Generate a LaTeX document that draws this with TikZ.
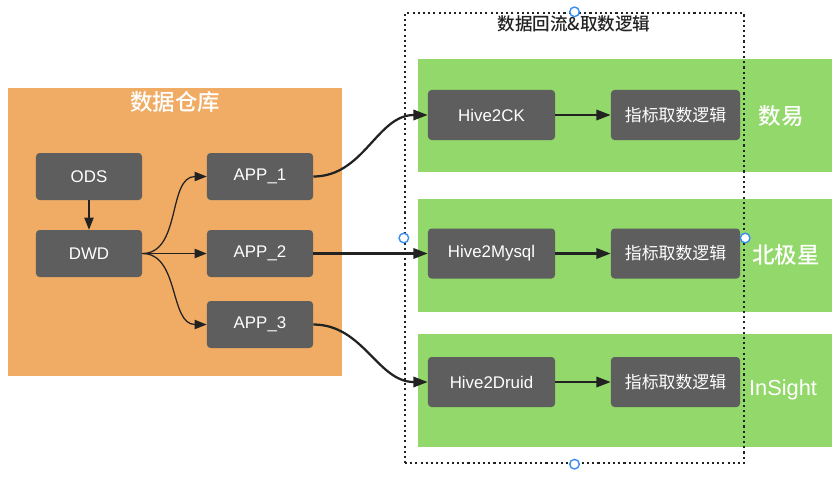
\documentclass[tikz,border=0pt]{standalone}
\usepackage{fontspec}
\setmainfont{Liberation Sans}
\newfontfamily\cjk{Noto Sans CJK SC}
\IfFontExistsTF{Noto Sans CJK SC Medium}
  {\newfontfamily\cjkmed{Noto Sans CJK SC Medium}}
  {\newfontfamily\cjkmed{Noto Sans CJK SC}}
\usepackage{xcolor}
\usepackage{tikz}
\usetikzlibrary{positioning,arrows.meta}
\definecolor{dwfill}{HTML}{F0AC64}
\definecolor{bandfill}{HTML}{93D86A}
\definecolor{boxgrey}{HTML}{5E5E5E}
\definecolor{inkdark}{HTML}{222222}
\definecolor{handleblue}{HTML}{3A8EF2}
\tikzset{
  dwarea/.style  ={rectangle, fill=dwfill, inner sep=0pt, minimum width=8.35cm, minimum height=7.2cm},
  band/.style    ={rectangle, fill=bandfill, inner sep=0pt, minimum width=10.35cm, minimum height=2.8cm},
  frame/.style   ={rectangle, draw=inkdark, line width=1.6pt, dash pattern=on 1.5pt off 2.2pt, inner sep=0pt, minimum width=8.475cm, minimum height=11.25cm},
  darkbox/.style ={rectangle, rounded corners=2.5pt, fill=boxgrey, text=white, inner sep=0pt, minimum width=2.65cm, minimum height=1.175cm, font=\fontsize{12}{14}\selectfont},
  hivebox/.style ={darkbox, minimum width=3.175cm, minimum height=1.25cm},
  logicbox/.style={darkbox, minimum width=3.225cm, minimum height=1.25cm, font=\cjk\fontsize{12}{14}\selectfont},
  sysname/.style ={text=white, inner sep=0pt, font=\cjkmed\fontsize{16}{18}\selectfont},
  thinflow/.style={-{Triangle[length=3mm,width=2.3mm]}, draw=inkdark, line width=0.9pt},
  flow/.style    ={-{Triangle[length=3.6mm,width=2.6mm]}, draw=inkdark, line width=1.6pt},
  handle/.style  ={circle, draw=handleblue, fill=white, line width=1pt, inner sep=0pt, minimum size=0.24cm},
}

\begin{document}
\begin{tikzpicture}[x=0.025cm,y=-0.025cm]
\useasboundingbox (0,0) rectangle (840,482);
% --- backgrounds ---
\node[dwarea] (dw) at (175,232) {};
\node[sysname] (dwtitle) at (175,102) {数据仓库};
\node[band] (band1) at (625,115.5) {};
\node[band] (band2) at (625,255.5) {};
\node[band] (band3) at (625,390.5) {};
% --- dotted frame ---
\node[frame] (frm) at (574.5,238) {};
\node[text=inkdark, inner sep=0pt, font=\cjkmed\fontsize{12.5}{14}\selectfont] (frmtitle) at (574,24) {数据回流\&取数逻辑};
% --- warehouse ---
\node[darkbox] (ods)  at (89,176.5)  {ODS};
\node[darkbox] (dwd)  at (89,253.5)  {DWD};
\node[darkbox] (app1) at (260,176.5) {APP\_1};
\node[darkbox] (app2) at (260,253.5) {APP\_2};
\node[darkbox] (app3) at (260,324.5) {APP\_3};
% --- hive export + logic ---
\node[hivebox] (hck) at (491.5,115)   {Hive2CK};
\node[hivebox] (hmy) at (491.5,253.5) {Hive2Mysql};
\node[hivebox] (hdr) at (491.5,382)   {Hive2Druid};
\node[logicbox] (lck) at (675.5,115)   {指标取数逻辑};
\node[logicbox] (lmy) at (675.5,253.5) {指标取数逻辑};
\node[logicbox] (ldr) at (675.5,382)   {指标取数逻辑};
% --- systems ---
\node[sysname] (sys1) at (781,116) {数易};
\node[sysname] (sys2) at (786,255) {北极星};
\node[sysname, font=\fontsize{15.5}{18}\selectfont] (sys3) at (783,390) {InSight};
% --- arrows ---
\draw[thinflow] (ods) -- (dwd);
\foreach \a in {app1,app2,app3} {\draw[thinflow] (dwd.east) to[out=0,in=180] (\a.west);}
\foreach \a/\h in {app1/hck,app2/hmy,app3/hdr} {\draw[flow] (\a.east) to[out=0,in=180] (\h.west);}
\foreach \h/\l in {hck/lck,hmy/lmy,hdr/ldr} {\draw[flow] (\h) -- (\l);}
% --- selection handles ---
\foreach \p in {north,west,east,south} {\node[handle] (hdl-\p) at (frm.\p) {};}
\end{tikzpicture}
\end{document}
